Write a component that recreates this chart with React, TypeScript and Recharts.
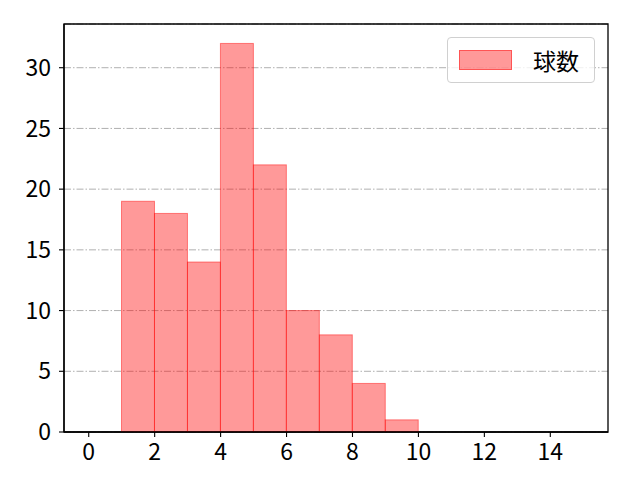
import { Bar, BarChart, CartesianGrid, ReferenceArea, XAxis, YAxis } from 'recharts';

// histogram bins (left edge .. right edge) and counts
const binStarts = [1, 2, 3, 4, 5, 6, 7, 8, 9];
const counts = [19, 18, 14, 32, 22, 10, 8, 4, 1];
const xTicks = [0, 2, 4, 6, 8, 10, 12, 14];
const yTicks = [0, 5, 10, 15, 20, 25, 30];
const seriesName = '球数';

const data = binStarts.map((s, i) => ({ x: s + 0.5, count: counts[i] }));

const X_DOMAIN: [number, number] = [-0.75, 15.75];
const Y_DOMAIN: [number, number] = [0, 33.6];
const PLOT_W = 544;
const BIN_PX = PLOT_W / (X_DOMAIN[1] - X_DOMAIN[0]);

const FONT = '"Noto Sans CJK JP", "DejaVu Sans", sans-serif';
const FONT_SIZE = 23;

const HistBar = (props: any) => {
  const { x, y, width, height } = props;
  const cx = x + width / 2;
  return (
    <rect
      x={cx - BIN_PX / 2}
      y={y}
      width={BIN_PX}
      height={height}
      fill="#ff0000"
      fillOpacity={0.4}
      stroke="#ff0000"
      strokeOpacity={0.45}
      strokeWidth={1}
    />
  );
};

const LegendBox = () => (
  <div
    style={{
      position: 'absolute',
      left: 447,
      top: 37,
      width: 148,
      height: 46,
      border: '1px solid #d0d0d0',
      borderRadius: 4,
      background: 'rgba(255,255,255,0.8)',
      display: 'flex',
      alignItems: 'center',
      boxSizing: 'border-box',
      fontFamily: FONT,
      fontSize: FONT_SIZE,
      color: '#000',
    }}
  >
    <div
      style={{
        width: 53,
        height: 20,
        marginLeft: 11,
        background: 'rgba(255,0,0,0.4)',
        border: '1px solid rgba(255,0,0,0.45)',
        boxSizing: 'border-box',
      }}
    />
    <span style={{ marginLeft: 21, lineHeight: 1 }}>{seriesName}</span>
  </div>
);

const App = () => {
  return (
    <div style={{ position: 'absolute', left: 0, top: 0, width: 640, height: 480, background: '#fff' }}>
      <BarChart
        width={640}
        height={480}
        data={data}
        margin={{ top: 24, right: 32, bottom: 0, left: 0 }}
      >
        <CartesianGrid
          horizontal
          vertical={false}
          stroke="#b0b0b0"
          strokeWidth={1}
          strokeDasharray="7 2 1.5 2"
        />
        <XAxis
          dataKey="x"
          type="number"
          domain={X_DOMAIN}
          ticks={xTicks}
          allowDataOverflow
          height={48}
          axisLine={{ stroke: '#000', strokeWidth: 1.3 }}
          tickLine={{ stroke: '#000', strokeWidth: 1.1 }}
          tickSize={5}
          tickMargin={7}
          tick={{ fill: '#000', fontSize: FONT_SIZE, fontFamily: FONT }}
        />
        <YAxis
          type="number"
          domain={Y_DOMAIN}
          ticks={yTicks}
          allowDataOverflow
          width={64}
          axisLine={{ stroke: '#000', strokeWidth: 1.3 }}
          tickLine={{ stroke: '#000', strokeWidth: 1.1 }}
          tickSize={5}
          tickMargin={8}
          tick={{ fill: '#000', fontSize: FONT_SIZE, fontFamily: FONT }}
        />
        <Bar
          dataKey="count"
          name={seriesName}
          shape={HistBar}
          isAnimationActive={false}
        />
        <ReferenceArea
          x1={X_DOMAIN[0]}
          x2={X_DOMAIN[1]}
          y1={Y_DOMAIN[0]}
          y2={Y_DOMAIN[1]}
          fill="none"
          fillOpacity={0}
          stroke="#000"
          strokeWidth={1.3}
          strokeOpacity={1}
          ifOverflow="visible"
        />
      </BarChart>
      <LegendBox />
    </div>
  );
};

export default App;
